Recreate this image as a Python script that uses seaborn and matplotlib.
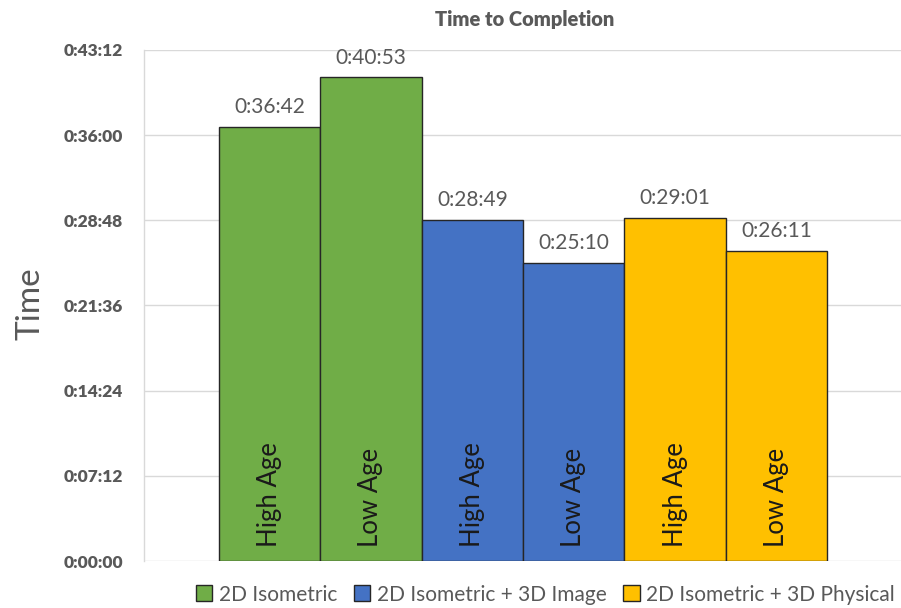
import matplotlib
matplotlib.use("Agg")
import matplotlib.pyplot as plt
import matplotlib.patches as mpatches
from matplotlib.ticker import FuncFormatter, MultipleLocator
import seaborn as sns
import pandas as pd

# Completion times in seconds
groups = ["2D Isometric", "2D Isometric", "2D Isometric + 3D Image",
          "2D Isometric + 3D Image", "2D Isometric + 3D Physical", "2D Isometric + 3D Physical"]
ages = ["High Age", "Low Age", "High Age", "Low Age", "High Age", "Low Age"]
seconds = [2202, 2453, 1729, 1510, 1741, 1571]
group_order = ["2D Isometric", "2D Isometric + 3D Image", "2D Isometric + 3D Physical"]
palette = ["#70AD47", "#4472C4", "#FFC000"]


def hms(v, pos=None):
    v = int(round(v))
    return f"{v // 3600}:{(v % 3600) // 60:02d}:{v % 60:02d}"


df = pd.DataFrame({
    "slot": [f"{g} | {a}" for g, a in zip(groups, ages)],
    "group": groups,
    "age": ages,
    "seconds": seconds,
})

sns.set_theme(style="white")
plt.rcParams["font.family"] = ["Lato", "DejaVu Sans"]

fig = plt.figure(figsize=(9.01, 6.08), dpi=100)
ax = fig.add_axes([0.1598, 0.0773, 0.8402, 0.8405])

sns.barplot(data=df, x="slot", y="seconds", hue="group", hue_order=group_order,
            palette=palette, dodge=False, width=1.0, saturation=1,
            edgecolor="#262626", linewidth=1.0, legend=False, ax=ax)

ax.set_ylim(0, 2592)
ax.set_xlim(-1.24, 6.23)
ax.yaxis.set_major_locator(MultipleLocator(432))
ax.yaxis.set_major_formatter(FuncFormatter(hms))
ax.grid(axis="y", color="#D9D9D9", linewidth=1.0)
ax.set_axisbelow(True)
for s in ["top", "right", "bottom"]:
    ax.spines[s].set_visible(False)
ax.spines["left"].set_color("#D9D9D9")
ax.spines["left"].set_linewidth(1.0)
ax.set_xticks([])
ax.set_xlabel("")
ax.set_ylabel("")
ax.tick_params(axis="y", length=0, pad=15)
for lbl in ax.get_yticklabels():
    lbl.set_fontweight("heavy")
    lbl.set_color("#595959")
    lbl.set_fontsize(12.5)

fig.text(0.034, 0.50, "Time", rotation=90, ha="center", va="center",
         fontsize=24, color="#595959")

for i, (v, a) in enumerate(zip(seconds, ages)):
    ax.text(i, v + 50, hms(v), ha="center", va="bottom", fontsize=15, color="#595959")
    ax.text(i, 70, a, rotation=90, ha="center", va="bottom", fontsize=18.5, color="#1a1a1a")

fig.text(0.582, 0.968, "Time to Completion", ha="center", va="center",
         fontsize=14.5, fontweight="heavy", color="#595959")

handles = [mpatches.Patch(facecolor=c, edgecolor="#262626", linewidth=1.0, label=g)
           for g, c in zip(group_order, palette)]
fig.legend(handles=handles, loc="center", bbox_to_anchor=(0.605, 0.022), ncol=3,
           frameon=False, fontsize=15, handlelength=0.8, handleheight=0.8,
           handletextpad=0.3, columnspacing=0.8, labelcolor="#595959",
           borderpad=0.2)

fig.savefig("out.png", dpi=100)
